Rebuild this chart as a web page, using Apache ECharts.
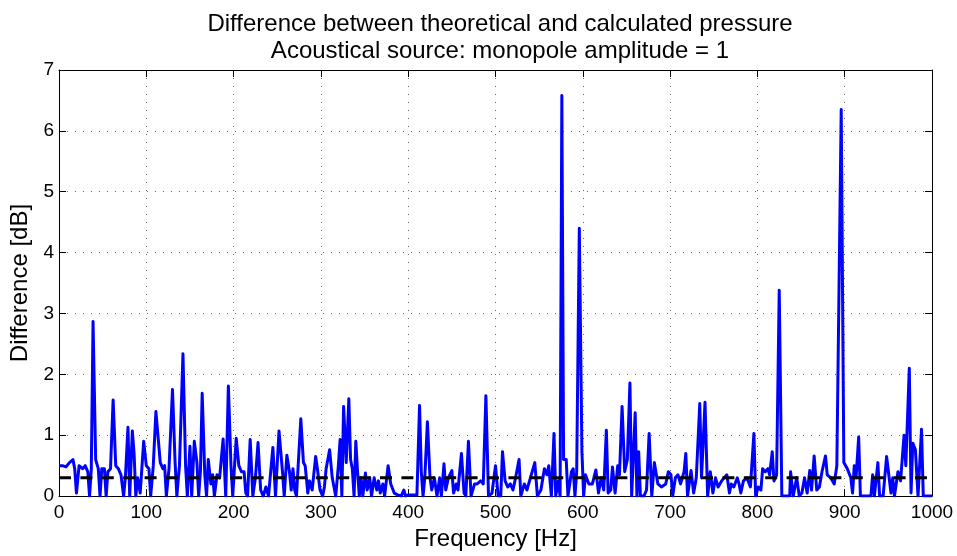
<!DOCTYPE html>
<html>
<head>
<meta charset="utf-8">
<script src="https://cdn.jsdelivr.net/npm/echarts@6/dist/echarts.min.js"></script>
<style>
html,body{margin:0;padding:0;background:#fff;}
#chart{width:957px;height:556px;}
</style>
</head>
<body>
<div id="chart"></div>
<script>
// Frequency [Hz] samples and difference [dB] values
const freqs = [0,4,8,12,16,18,20,23,27,30,33,35,37,39,42,45,47,49,52,54,56,59,62,65,68,71,74,76,79,81,84,86,88,90,93,97,100,103,105,108,111,113,116,119,121,123,126,130,133,135,138,142,145,147,150,152,155,158,160,162,164,167,169,171,174,176,178,181,184,188,191,194,197,199,203,206,209,212,214,216,219,222,225,228,231,234,237,240,245,248,252,256,258,261,264,266,268,270,272,277,280,282,285,287,290,294,296,299,302,304,306,310,313,317,320,322,324,326,329,332,334,336,338,340,342,344,346,348,351,353,356,358,361,364,366,368,371,373,377,380,384,388,392,395,397,400,405,410,413,415,417,419,422,425,427,430,433,436,438,441,443,446,450,452,455,457,461,464,466,469,472,476,479,483,486,489,492,496,500,503,506,508,511,514,517,520,523,527,529,533,536,540,545,548,552,556,559,561,564,567,569,572,574,576,578,581,583,585,587,589,591,593,596,599,601,603,607,611,615,618,621,624,627,629,632,634,637,640,642,645,648,651,654,656,660,662,664,666,670,673,676,679,682,684,686,690,695,698,701,703,706,709,712,716,718,720,724,727,730,734,736,740,743,746,749,752,755,759,765,768,770,773,777,779,781,784,788,792,796,798,801,804,806,809,812,814,817,819,822,825,828,833,837,838,841,845,848,851,854,857,860,862,865,868,871,874,878,880,884,888,891,896,899,903,907,909,911,913,916,918,925,930,932,934,938,940,944,948,950,953,955,957,961,964,968,970,974,976,978,981,984,988,990,1000];
const diffs = [0.5,0.5,0.48,0.55,0.6,0.45,0.05,0.5,0.45,0.5,0.4,0.0,0.45,2.87,0.6,0.45,0.0,0.45,0.45,0.0,0.4,0.45,1.58,0.5,0.45,0.35,0.0,0.3,1.13,0.0,1.07,0.7,0.0,0.3,0.05,0.9,0.5,0.45,0.0,0.5,1.39,1.42,0.55,0.45,0.5,0.0,0.45,1.75,0.55,0.0,0.5,2.34,0.5,0.0,0.82,0.0,0.9,0.55,0.0,0.4,1.69,0.35,0.0,0.6,0.2,0.35,0.0,0.35,0.3,0.94,0.0,1.81,0.5,0.0,0.95,0.5,0.4,0.4,0.05,0.0,0.93,0.0,0.3,0.88,0.1,0.0,0.15,0.0,0.8,0.0,1.07,0.4,0.0,0.67,0.4,0.1,0.45,0.1,0.0,1.27,0.55,0.5,0.05,0.25,0.1,0.65,0.45,0.1,0.0,0.15,0.45,0.76,0.3,0.0,0.5,0.93,0.0,1.47,0.55,1.6,0.6,0.45,0.0,0.9,0.4,0.0,0.3,0.0,0.38,0.1,0.3,0.0,0.3,0.1,0.25,0.05,0.2,0.0,0.5,0.2,0.05,0.02,0.0,0.1,0.0,0.02,0.02,0.02,1.49,0.4,0.0,0.3,1.22,0.3,0.1,0.3,0.0,0.3,0.0,0.53,0.1,0.3,0.42,0.05,0.2,0.1,0.7,0.05,0.0,0.9,0.0,0.2,0.2,0.25,0.2,1.65,0.0,0.05,0.5,0.0,0.0,0.73,0.25,0.15,0.2,0.1,0.3,0.6,0.0,0.2,0.1,0.3,0.55,0.0,0.1,0.45,0.35,0.5,0.0,1.03,0.0,0.25,0.0,6.58,0.6,0.6,0.0,0.2,0.4,0.45,0.0,0.4,4.4,0.72,0.0,0.35,0.2,0.2,0.43,0.05,0.3,0.1,1.08,0.05,0.1,0.48,0.05,0.5,0.35,1.47,0.4,0.6,1.86,0.0,1.37,0.0,0.73,0.0,0.0,0.1,1.03,0.0,0.55,0.55,0.2,0.15,0.2,0.4,0.35,0.0,0.3,0.35,0.2,0.4,0.7,0.0,0.42,0.05,0.3,1.52,0.3,1.54,0.0,0.4,0.05,0.3,0.15,0.25,0.35,0.05,0.2,0.15,0.3,0.2,0.05,0.25,0.3,0.15,1.03,0.0,0.15,0.1,0.45,0.4,0.45,0.35,0.73,0.25,0.35,3.38,0.0,0.0,0.0,0.4,0.0,0.3,0.0,0.05,0.3,0.05,0.42,0.1,0.66,0.1,0.15,0.4,0.66,0.35,0.3,0.2,0.5,6.35,0.55,0.45,0.3,0.05,0.5,0.3,0.97,0.0,0.0,0.0,0.35,0.0,0.55,0.0,0.0,0.65,0.67,0.05,0.3,0.0,0.4,0.25,1.0,0.5,2.1,0.05,0.87,0.76,0.0,1.1,0.0,0.0];
const thresholdValue = 0.3;
const xTicks = [0,100,200,300,400,500,600,700,800,900,1000];
const yTicks = [0,1,2,3,4,5,6,7];

const FONT = '"Liberation Sans", Arial, Helvetica, sans-serif';
const chart = echarts.init(document.getElementById('chart'), null, {renderer: 'canvas'});
const lineData = freqs.map((f, i) => [f, diffs[i]]);
const gridDots = {show: true, lineStyle: {color: '#666', width: 1, type: [1, 7]}};
const tickStyle = {show: true, inside: true, length: 7, lineStyle: {color: '#000'}};
const option = {
  animation: false,
  backgroundColor: '#fff',
  title: {
    text: 'Difference between theoretical and calculated pressure\nAcoustical source: monopole amplitude = 1',
    left: 495, top: 6, textAlign: 'center',
    textStyle: {fontFamily: FONT, fontSize: 24, fontWeight: 'normal', color: '#000', lineHeight: 27}
  },
  grid: {left: 59, right: 25, top: 70, bottom: 57, containLabel: false},
  xAxis: [{
    type: 'value', min: xTicks[0], max: xTicks[xTicks.length - 1], interval: xTicks[1] - xTicks[0],
    name: 'Frequency [Hz]', nameLocation: 'middle', nameGap: 27,
    nameTextStyle: {fontFamily: FONT, fontSize: 24, color: '#000'},
    axisLine: {show: true, onZero: false, lineStyle: {color: '#000', width: 1}},
    axisTick: tickStyle,
    axisLabel: {fontFamily: FONT, fontSize: 19, color: '#000', margin: 7, formatter: v => String(v)},
    splitLine: gridDots
  }, {
    type: 'value', min: xTicks[0], max: xTicks[xTicks.length - 1], interval: xTicks[1] - xTicks[0], position: 'top',
    axisLine: {show: true, onZero: false, lineStyle: {color: '#000', width: 1}},
    axisTick: tickStyle,
    axisLabel: {show: false}, splitLine: {show: false}
  }],
  yAxis: [{
    type: 'value', min: yTicks[0], max: yTicks[yTicks.length - 1], interval: 1,
    name: 'Difference [dB]', nameLocation: 'middle', nameGap: 24, nameRotate: 90,
    nameTextStyle: {fontFamily: FONT, fontSize: 24, color: '#000'},
    axisLine: {show: true, onZero: false, lineStyle: {color: '#000', width: 1}},
    axisTick: tickStyle,
    axisLabel: {fontFamily: FONT, fontSize: 19, color: '#000', margin: 5, formatter: v => String(v)},
    splitLine: gridDots
  }, {
    type: 'value', min: yTicks[0], max: yTicks[yTicks.length - 1], interval: 1, position: 'right',
    axisLine: {show: true, onZero: false, lineStyle: {color: '#000', width: 1}},
    axisTick: tickStyle,
    axisLabel: {show: false}, splitLine: {show: false}
  }],
  series: [{
    type: 'line', data: lineData, xAxisIndex: 0, yAxisIndex: 0,
    showSymbol: false, symbol: 'none',
    lineStyle: {color: '#0000ff', width: 3, join: 'round'},
    z: 3
  }, {
    type: 'line', data: [[xTicks[0], thresholdValue], [xTicks[xTicks.length - 1], thresholdValue]],
    xAxisIndex: 0, yAxisIndex: 0, showSymbol: false, symbol: 'none',
    lineStyle: {color: '#000', width: 3, type: [12, 9.4]},
    z: 4
  }]
};
chart.setOption(option);
</script>
</body>
</html>
